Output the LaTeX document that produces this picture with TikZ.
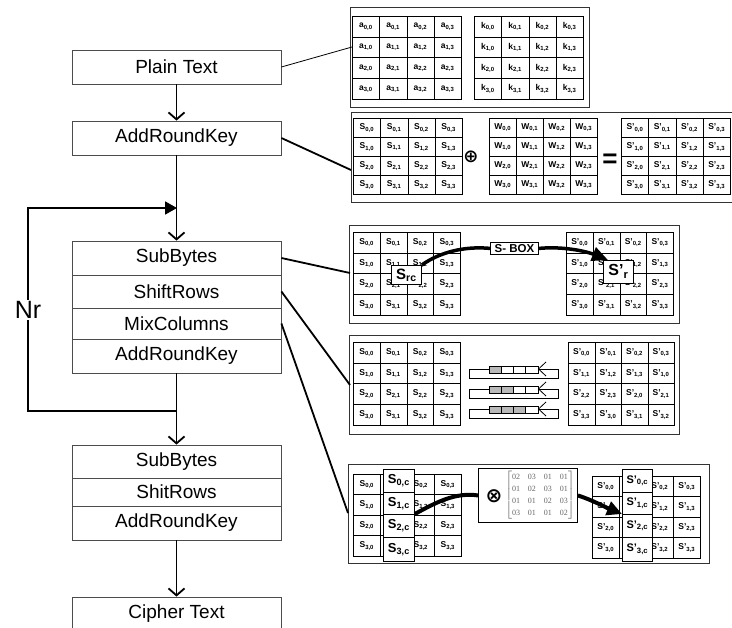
\documentclass[tikz,border=0pt]{standalone}
\usepackage{fontspec}
\setmainfont{Liberation Sans}
\newfontfamily\serifm{Liberation Serif}
\newfontfamily\symf{DejaVu Sans}
\usetikzlibrary{arrows.meta}
\newcommand\aesgrid[6]{%
  \foreach \r in {0,...,3}{\foreach \c in {0,...,3}{%
    \pgfmathtruncatemacro\cc{mod(\c+\r,4)}%
    \node[cell, minimum width=#4pt, minimum height=#5pt] (#1-\r-\c) at ({#2+\c*#4},{#3+\r*#5}) {#6};
  }}}
\begin{document}
\begin{tikzpicture}[x=1pt,y=-1pt,
  flowbox/.style={draw=black!70, line width=0.8pt, minimum width=209pt, inner sep=0pt, font=\fontsize{19}{19}\selectfont},
  conn/.style={line width=1.8pt},
  thinconn/.style={line width=0.8pt},
  framebox/.style={draw=black!80, line width=1pt, inner sep=0pt, anchor=north west},
  cell/.style={draw=black, line width=0.6pt, inner sep=0pt, anchor=north west, font=\fontsize{8.5}{8.5}\selectfont\bfseries},
  ovl/.style={draw=black, fill=white, line width=0.8pt, inner sep=0pt, anchor=north west, font=\bfseries},
  barb/.style={-{Straight Barb[length=7pt,width=16pt]}},
]
\useasboundingbox (0,0) rectangle (732,628);
\fill[white] (0,0) rectangle (732,628);
\clip (0,0) rectangle (732,628);

% ---------- left flow ----------
\node[flowbox, minimum height=34pt] (pt) at (176.5,67) {Plain Text};
\node[flowbox, minimum height=34pt] (ark0) at (176.5,138) {AddRoundKey};
\node[flowbox, minimum height=34pt] (sb) at (176.5,258) {SubBytes};
\node[flowbox, minimum height=33pt] (sr) at (176.5,291.5) {ShiftRows};
\node[flowbox, minimum height=31pt] (mc) at (176.5,323.5) {MixColumns};
\node[flowbox, minimum height=34pt] (ark) at (176.5,356) {AddRoundKey};
\node[flowbox, minimum height=33pt] (sb2) at (176.5,461.5) {SubBytes};
\node[flowbox, minimum height=28pt] (sr2) at (176.5,492) {ShitRows};
\node[flowbox, minimum height=34pt] (ark2) at (176.5,523) {AddRoundKey};
\node[flowbox, minimum height=34pt] (ct) at (176.5,614) {Cipher Text};

\draw[conn, barb] (pt) -- (ark0);
\draw[conn, barb] (ark0) -- (sb);
\draw[conn, barb] (ark) -- (sb2);
\draw[conn, barb] (ark2) -- (ct);
\coordinate (loopB) at (177,411);
\coordinate (loopBL) at (28,411);
\coordinate (loopTL) at (28,208);
\coordinate (loopT) at (177,208);
\draw[conn, -{Triangle[length=12pt,width=13pt]}] (loopB) -- (loopBL) -- (loopTL) -- (loopT);
\node[fill=white, inner sep=1pt, font=\fontsize{25}{25}\selectfont] (nr) at (28,310) {Nr};

% ---------- frames ----------
\node[framebox, minimum width=239pt, minimum height=100pt] (f1) at (350,7) {};
\node[framebox, minimum width=394pt, minimum height=90pt] (f2) at (351,112) {};
\node[framebox, minimum width=330pt, minimum height=98pt] (f3) at (349,225) {};
\node[framebox, minimum width=330pt, minimum height=99pt] (f4) at (349,335) {};
\node[framebox, minimum width=361pt, minimum height=99pt] (f5) at (348,464) {};

% ---------- connectors to frames ----------
\coordinate (c1) at (352,47);
\coordinate (c2) at (351,170);
\coordinate (c3) at (350,273);
\coordinate (c4) at (350,385);
\coordinate (c5) at (348,513);
\draw[thinconn] (pt.east) -- (c1);
\draw[conn] (ark0.east) -- (c2);
\draw[conn] (sb.east) -- (c3);
\draw[conn] (sr.east) -- (c4);
\draw[conn] (mc.east) -- (c5);

% ---------- grids ----------
\aesgrid{ga}{352}{16}{27.25}{20.75}{a\textsubscript{\r,\c}}
\aesgrid{gk}{474}{16}{27.25}{20.75}{k\textsubscript{\r,\c}}
\aesgrid{gsa}{353}{118}{27.25}{19}{S\textsubscript{\r,\c}}
\aesgrid{gw}{489}{118}{27}{19}{W\textsubscript{\r,\c}}
\aesgrid{gsap}{621}{118}{27.25}{19}{S'\textsubscript{\r,\c}}
\aesgrid{gsb}{353}{232}{26.75}{20.75}{S\textsubscript{\r,\c}}
\aesgrid{gsbp}{566}{232}{26.75}{20.75}{S'\textsubscript{\r,\c}}
\aesgrid{gsr}{353}{342}{26.75}{20.75}{S\textsubscript{\r,\c}}
\aesgrid{gsrp}{568}{342}{26.5}{20.75}{S'\textsubscript{\r,\cc}}
\aesgrid{gmc}{353}{474}{27}{20.5}{\ifnum\c=1 \else S\textsubscript{\r,\c}\fi}
\aesgrid{gmcp}{592}{476}{27}{20.5}{\ifnum\c=1 \else S'\textsubscript{\r,\c}\fi}

% ---------- AddRoundKey symbols ----------
\node[font=\fontsize{18}{18}\symf\bfseries, inner sep=0pt] (oplus) at (471,157) {⊕};
\node[font=\fontsize{26}{26}\selectfont\bfseries, anchor=base, inner sep=0pt] (eq) at (610,168) {=};

% ---------- SubBytes ----------
\node[ovl, minimum width=30pt, minimum height=19pt, font=\fontsize{15}{15}\selectfont\bfseries] (src) at (391,265) {S\textsubscript{rc}};
\node[ovl, minimum width=48pt, minimum height=12pt, font=\fontsize{11.5}{11.5}\selectfont\bfseries] (sbox) at (490,242) {S- BOX};
\node[ovl, minimum width=30pt, minimum height=23pt, font=\fontsize{16}{16}\selectfont\bfseries] (srp) at (603,260) {\raisebox{3pt}{S'\textsubscript{r}}};
\draw[line width=3.5pt] (src.north east) .. controls (440,252) and (465,246) .. (sbox.west);
\draw[line width=3.5pt, -{Triangle[length=16pt,width=14pt]}] (sbox.east) .. controls (565,246) and (588,252) .. ([xshift=5pt]srp.north west);

% ---------- ShiftRows icons ----------
\foreach \i/\yt in {1/369, 2/389, 3/409}{
  \draw[line width=0.8pt] (469,\yt) rectangle (558,{\yt+9});
  \foreach \k in {0,...,3}{
    \ifnum\k<\i \def\fc{gray!55}\else\def\fc{white}\fi
    \draw[line width=0.8pt, fill=\fc] ({489+\k*12.25},{\yt-3}) rectangle ++(12.25,7);
  }
  \draw[line width=0.8pt] (546,{\yt-7}) -- (538.5,\yt) -- (546,{\yt+7});
}

% ---------- MixColumns ----------
\foreach \r/\yy/\hh in {0/469/23, 1/492/22, 2/514/23, 3/537/24}{
  \node[ovl, minimum width=31pt, minimum height=\hh pt, font=\fontsize{13}{13}\selectfont\bfseries] (mcL-\r) at (383,\yy) {S\textsubscript{\r,c}};
  \node[ovl, minimum width=30pt, minimum height=\hh pt, font=\fontsize{11}{11}\selectfont\bfseries] (mcR-\r) at (622,\yy) {S'\textsubscript{\r,c}};
}
\node[draw=black, line width=0.9pt, fill=white, anchor=north west, minimum width=99pt, minimum height=54pt, inner sep=0pt] (mixbox) at (478,468) {};
\node[font=\fontsize{20}{20}\symf\bfseries, inner sep=0pt] (otim) at (494,496) {⊗};
\node[font=\fontsize{8}{12}\serifm, text=black!60, inner sep=0pt] (mat) at (540,495)
  {\setlength\tabcolsep{4pt}$\left[\begin{tabular}{@{}cccc@{}}02&03&01&01\\01&02&03&01\\01&01&02&03\\03&01&01&02\end{tabular}\right]$};
\draw[line width=4pt] (mcL-2.north east) .. controls (435,503) and (455,492) .. (mixbox.west);
\draw[line width=4pt, -{Triangle[length=15pt,width=14pt]}] (mixbox.east) .. controls (592,500) and (605,507) .. (mcR-2.north west);
\end{tikzpicture}
\end{document}
